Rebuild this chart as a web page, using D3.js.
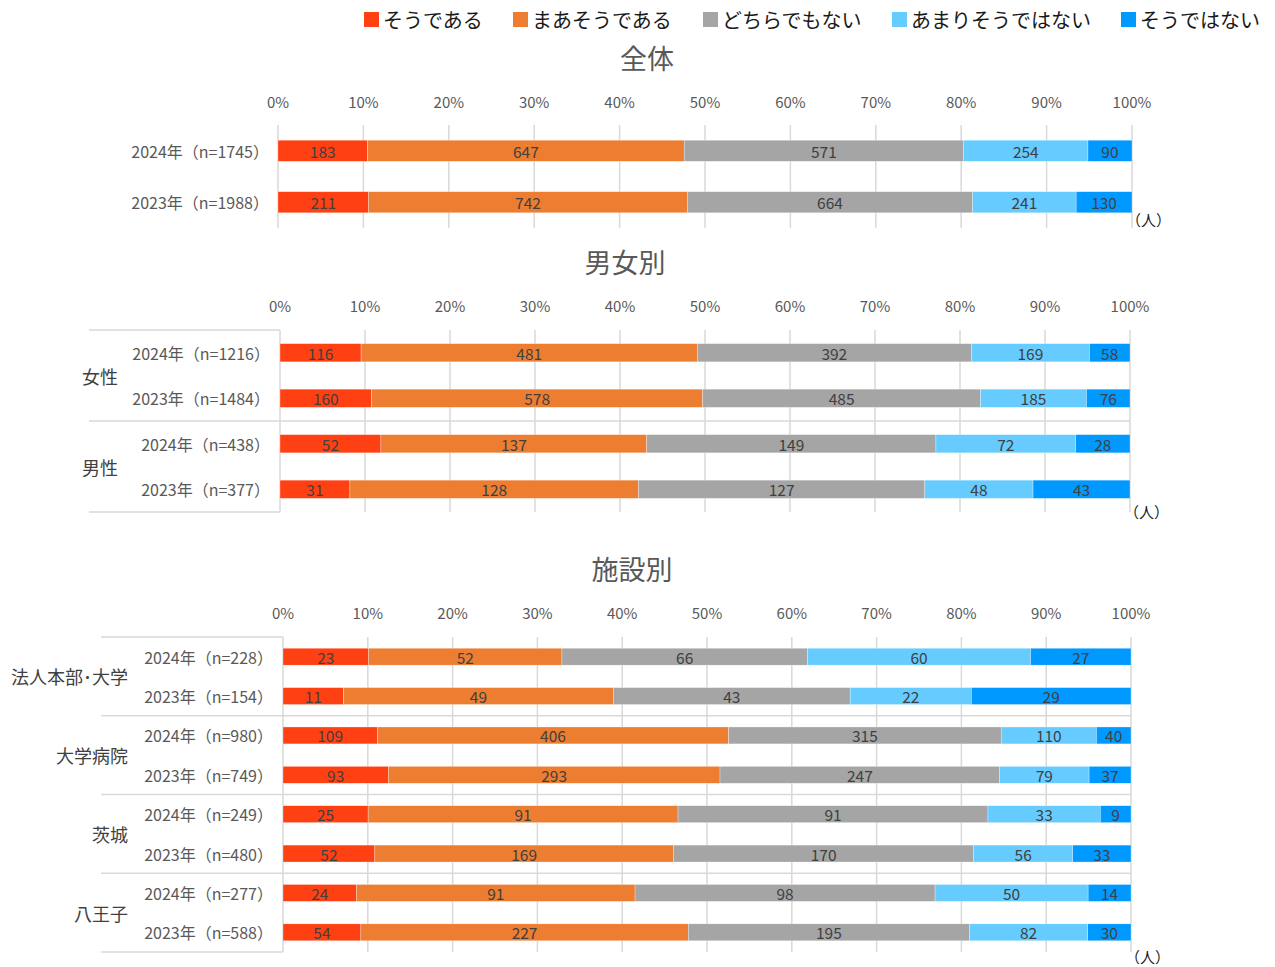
<!DOCTYPE html>
<html><head><meta charset="utf-8">
<script src="https://cdn.jsdelivr.net/npm/d3@7"></script>
<style>
body{margin:0;background:#fff;}
svg{display:block;font-family:"Noto Sans CJK JP","Noto Sans",sans-serif;}
</style></head>
<body>
<svg id="c" width="1275" height="967"></svg>
<script>
const seriesNames = ["そうである","まあそうである","どちらでもない","あまりそうではない","そうではない"];
const seriesColors = ["#FF4013","#ED7D31","#A5A5A5","#66CCFF","#0099FF"];
const tickValues = [0,0.1,0.2,0.3,0.4,0.5,0.6,0.7,0.8,0.9,1.0];

// 全体
const overallRows = ["2024年（n=1745）","2023年（n=1988）"];
const overallValues = [
  [183,647,571,254,90],
  [211,742,664,241,130]
];

// 男女別
const genderGroups = ["女性","男性"];
const genderRows = ["2024年（n=1216）","2023年（n=1484）","2024年（n=438）","2023年（n=377）"];
const genderValues = [
  [116,481,392,169,58],
  [160,578,485,185,76],
  [52,137,149,72,28],
  [31,128,127,48,43]
];

// 施設別
const facilityGroups = ["法人本部･大学","大学病院","茨城","八王子"];
const facilityRows = ["2024年（n=228）","2023年（n=154）","2024年（n=980）","2023年（n=749）","2024年（n=249）","2023年（n=480）","2024年（n=277）","2023年（n=588）"];
const facilityValues = [
  [23,52,66,60,27],
  [11,49,43,22,29],
  [109,406,315,110,40],
  [93,293,247,79,37],
  [25,91,91,33,9],
  [52,169,170,56,33],
  [24,91,98,50,14],
  [54,227,195,82,30]
];

const svg = d3.select("#c");

// Legend
const legendX = [364,513,703,892,1121];
const lg = svg.append("g");
seriesNames.forEach((n,i)=>{
  lg.append("rect").attr("x",legendX[i]).attr("y",12).attr("width",15).attr("height",15).attr("fill",seriesColors[i]);
  lg.append("text").attr("x",legendX[i]+19).attr("y",19.5).attr("dominant-baseline","central")
    .attr("font-size",20).attr("fill","#1a1a1a").text(n);
});

function panel(cfg){
  const g = svg.append("g");
  const x = d3.scaleLinear().domain([0,1]).range([cfg.x0,cfg.x1]);
  const p = cfg.pad;
  const y = d3.scaleBand().domain(cfg.rows.map((r,i)=>i)).range([cfg.yTop,cfg.yBot]).paddingInner(p).paddingOuter(p/2);

  // title
  g.append("text").attr("x",cfg.titleX).attr("y",cfg.titleY).attr("text-anchor","middle").attr("dominant-baseline","central")
    .attr("font-size",27).attr("fill","#595959").text(cfg.title);

  // grid lines
  g.selectAll(".grid").data(tickValues).join("line")
    .attr("x1",d=>x(d)).attr("x2",d=>x(d)).attr("y1",cfg.yTop).attr("y2",cfg.yBot)
    .attr("stroke","#D9D9D9").attr("stroke-width",1.5);

  // tick labels
  g.selectAll(".tk").data(tickValues).join("text")
    .attr("x",d=>x(d)).attr("y",cfg.tickY).attr("text-anchor","middle").attr("dominant-baseline","central")
    .attr("font-size",15).attr("fill","#595959").text(d=>d3.format(".0%")(d));

  // group boxes
  if(cfg.groups){
    const per = cfg.rows.length / cfg.groups.length;
    const step = y.step();
    const lineC = "#D9D9D9";
    g.append("line").attr("x1",cfg.boxX).attr("x2",cfg.x0).attr("y1",cfg.yTop).attr("y2",cfg.yTop).attr("stroke",lineC).attr("stroke-width",1.5);
    g.append("line").attr("x1",cfg.boxX).attr("x2",cfg.x0).attr("y1",cfg.yBot).attr("y2",cfg.yBot).attr("stroke",lineC).attr("stroke-width",1.5);
    for(let k=1;k<cfg.groups.length;k++){
      const yy = cfg.yTop + step*per*k;
      g.append("line").attr("x1",cfg.boxX).attr("x2",cfg.x1).attr("y1",yy).attr("y2",yy).attr("stroke",lineC).attr("stroke-width",1.5);
    }
    cfg.groups.forEach((gn,k)=>{
      const yy = cfg.yTop + step*per*(k+0.5);
      g.append("text").attr("x",cfg.groupX).attr("y",yy).attr("text-anchor",cfg.groupAnchor).attr("dominant-baseline","central")
        .attr("font-size",18).attr("fill","#404040").text(gn);
    });
  }

  // row labels
  g.selectAll(".rl").data(cfg.rows).join("text")
    .attr("x",cfg.rowX).attr("y",(d,i)=>y(i)+y.bandwidth()/2).attr("text-anchor","end").attr("dominant-baseline","central")
    .attr("font-size",16).attr("fill","#595959").text(d=>d);

  // bars
  cfg.values.forEach((vals,i)=>{
    const tot = d3.sum(vals);
    let cum = 0;
    vals.forEach((v,s)=>{
      const a = cum/tot, b = (cum+v)/tot;
      cum += v;
      g.append("rect").attr("x",x(a)).attr("y",y(i)).attr("width",x(b)-x(a)).attr("height",y.bandwidth())
        .attr("fill",seriesColors[s]).attr("stroke","#fff").attr("stroke-width",0.5).attr("stroke-opacity",0.6);
      g.append("text").attr("x",(x(a)+x(b))/2).attr("y",y(i)+y.bandwidth()/2).attr("text-anchor","middle").attr("dominant-baseline","central")
        .attr("font-size",15.5).attr("fill","#404040").text(v);
    });
  });

  // unit
  g.append("text").attr("x",cfg.x1-6).attr("y",cfg.unitY).attr("dominant-baseline","central")
    .attr("font-size",15).attr("fill","#1a1a1a").text("（人）");
}

panel({title:"全体",titleX:647,titleY:57,tickY:101,x0:278,x1:1132,yTop:125,yBot:228,pad:0.59,
  rows:overallRows,values:overallValues,rowX:269,unitY:219});

panel({title:"男女別",titleX:625,titleY:261,tickY:305,x0:280,x1:1130,yTop:330,yBot:512,pad:0.6,
  rows:genderRows,values:genderValues,rowX:270,groups:genderGroups,groupX:100,groupAnchor:"middle",boxX:89,unitY:511});

panel({title:"施設別",titleX:632,titleY:568,tickY:612,x0:283,x1:1131,yTop:637,yBot:952,pad:0.57,
  rows:facilityRows,values:facilityValues,rowX:273,groups:facilityGroups,groupX:128,groupAnchor:"end",boxX:101,unitY:956});
</script>
</body></html>
